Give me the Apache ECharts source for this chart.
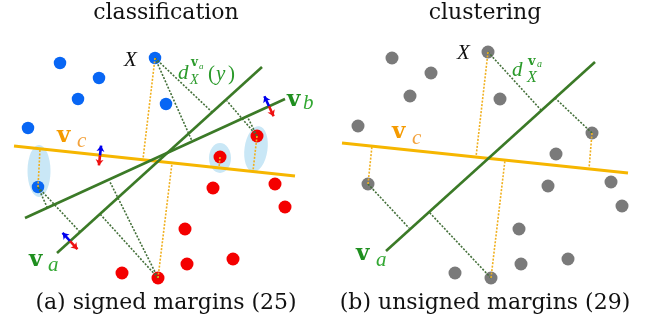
<!DOCTYPE html>
<html><head><meta charset="utf-8">
<script src="https://cdn.jsdelivr.net/npm/echarts@6/dist/echarts.min.js"></script>
<style>html,body{margin:0;padding:0;background:#fff}#c{width:650px;height:329px}</style>
</head><body><div id="c"></div>
<script>
// ---- data (diagram coordinates) ----
const bluePts = [[60,63],[99,78],[78,99],[155,58],[166,104],[28,128],[38,187]];
const redPts = [[257,136],[220,157],[213,188],[275,184],[285,207],[185,229],[187,264],[233,259],[122,273],[158,278]];
const grayPts = [[392,58],[431,73],[410,96],[488,52],[500,99],[358,126],[368,184],[592,133],[556,154],[548,186],[611,182],[622,206],[519,229],[521,264],[568,259],[455,273],[491,278]];
const greenLines = [[[57,253],[262,67]], [[25,218],[285,99]], [[386,251],[595,62]]];
const orangeLines = [[[14,146],[295,176]], [[342,143],[628,173]]];
const greenDotted = [
  [[155,58],[212,112]], [[155,58],[192,141]],
  [[257,136],[227,101]], [[257,136],[247,116]],
  [[38,187],[80,232]], [[38,187],[47,207]],
  [[158,278],[100,214]], [[158,278],[110,182]],
  [[488,52],[541,110]], [[592,133],[555,98]], [[368,184],[409,228]], [[491,278],[429,212]]
];
const orangeDotted = [
  [[155,58],[143,159]], [[158,278],[172,163]], [[38,187],[40,149]], [[220,157],[219,168]], [[257,136],[253,171]],
  [[488,52],[476,157]], [[592,133],[589,169]], [[368,184],[372,146]], [[491,278],[505,160]]
];
const blueArrows = [[[100,155.5],[101.1,145.6]], [[70,241],[62.6,232.8]], [[269,106.3],[264.4,96.2]]];
const redArrows = [[[100,155.5],[98.9,165.4]], [[70,241],[77.4,249.2]], [[269,106.3],[273.6,116.3]]];
const ellipseCenters = [[39,171],[220,158],[256,149]];
const titles = ['classification', 'clustering'];
const captions = ['(a) signed margins (25)', '(b) unsigned margins (29)'];

// ---- styles ----
const ellipseShapes = [{w:23,h:52,r:0},{w:22,h:30,r:0},{w:23,h:46,r:-8}];
const GREEN = '#3b7a27', ORANGE = '#f6b600', GTXT = '#2a9a2a';

const chart = echarts.init(document.getElementById('c'), null, {renderer:'canvas'});
const seg = arr => arr.map(c => ({coords: c}));
const serifs = '"DejaVu Serif", serif';
const mathf = '"Liberation Serif", "DejaVu Serif", serif';
function T(x, base, text, size, fill, opts) {
  opts = opts || {};
  return {type:'text', silent:true, style:{
    x: x, y: base - 0.33*size, text: text,
    font: [(opts.style||'normal'), (opts.weight||'normal'), size + 'px', (opts.family||mathf)].join(' '),
    fill: fill, textAlign: opts.align||'left', textVerticalAlign:'middle'}};
}
const graphics = [
  T(166, 21, titles[0], 22, '#111', {align:'center', family:serifs}),
  T(485, 21, titles[1], 22, '#111', {align:'center', family:serifs}),
  T(166, 311, captions[0], 22, '#111', {align:'center', family:serifs}),
  T(485, 311, captions[1], 22, '#111', {align:'center', family:serifs}),
  T(124, 67, 'X', 21, '#111', {style:'italic'}),
  T(457, 60, 'X', 21, '#111', {style:'italic'}),
  // d_X^{va}(y) left
  T(178, 80, 'd', 21, GTXT, {style:'italic'}),
  T(191, 67, 'v', 12, GTXT, {weight:'bold', family:serifs}),
  T(199, 70, 'a', 9, GTXT, {style:'italic'}),
  T(190, 85, 'X', 14, GTXT, {style:'italic'}),
  T(208, 81, '(', 21, GTXT, {}),
  T(216, 81, 'y', 21, GTXT, {style:'italic'}),
  T(228, 81, ')', 21, GTXT, {}),
  // right
  T(512, 77, 'd', 21, GTXT, {style:'italic'}),
  T(528, 66, 'v', 13, GTXT, {weight:'bold', family:serifs}),
  T(537, 68, 'a', 10, GTXT, {style:'italic'}),
  T(527, 83, 'X', 16, GTXT, {style:'italic'}),
  // v_c
  T(57, 144, 'v', 23, '#f59b00', {weight:'bold', family:serifs}),
  T(77, 148, 'c', 21, '#f3a23c', {style:'italic'}),
  T(392, 140, 'v', 23, '#f59b00', {weight:'bold', family:serifs}),
  T(412, 145, 'c', 21, '#f3a23c', {style:'italic'}),
  // v_b
  T(287, 108, 'v', 23, '#1f8f1f', {weight:'bold', family:serifs}),
  T(303, 110, 'b', 21, '#33a833', {style:'italic'}),
  // v_a
  T(29, 268, 'v', 23, '#1f8f1f', {weight:'bold', family:serifs}),
  T(48, 272, 'a', 21, '#33a833', {style:'italic'}),
  T(356, 262, 'v', 23, '#1f8f1f', {weight:'bold', family:serifs}),
  T(376, 267, 'a', 21, '#33a833', {style:'italic'})
];

chart.setOption({
  animation: false,
  grid: {left:0, right:0, top:0, bottom:0},
  xAxis: {type:'value', min:0, max:650, show:false},
  yAxis: {type:'value', min:0, max:329, inverse:true, show:false},
  series: [
    {type:'scatter', silent:true, data: ellipseCenters,
     symbolSize: (v, p) => [ellipseShapes[p.dataIndex].w, ellipseShapes[p.dataIndex].h],
     symbolRotate: (v, p) => ellipseShapes[p.dataIndex].r,
     itemStyle:{color:'#c9e7f6', opacity:1}, z:1},
    {type:'scatter', silent:true, data: bluePts, symbolSize:12.5, itemStyle:{color:'#0866f4', opacity:1}, z:3},
    {type:'scatter', silent:true, data: redPts, symbolSize:13, itemStyle:{color:'#f40000', opacity:1}, z:3},
    {type:'scatter', silent:true, data: grayPts, symbolSize:13, itemStyle:{color:'#7a7a7a', opacity:1}, z:3},
    {type:'lines', coordinateSystem:'cartesian2d', silent:true, data: seg(greenDotted),
     lineStyle:{color:'#44703a', width:1.6, type:[2,1.5], opacity:1}, z:4},
    {type:'lines', coordinateSystem:'cartesian2d', silent:true, data: seg(orangeDotted),
     lineStyle:{color:'#f0b020', width:1.6, type:[2,1.5], opacity:1}, z:4},
    {type:'lines', coordinateSystem:'cartesian2d', silent:true, data: seg(orangeLines),
     lineStyle:{color:ORANGE, width:3, opacity:1}, z:5},
    {type:'lines', coordinateSystem:'cartesian2d', silent:true, data: seg(greenLines),
     lineStyle:{color:GREEN, width:2.6, opacity:1}, z:6},
    {type:'lines', coordinateSystem:'cartesian2d', silent:true, data: seg(blueArrows),
     symbol:['none','arrow'], symbolSize:6, lineStyle:{color:'#0000ee', width:2.6, opacity:1}, z:7},
    {type:'lines', coordinateSystem:'cartesian2d', silent:true, data: seg(redArrows),
     symbol:['none','arrow'], symbolSize:6, lineStyle:{color:'#ee1111', width:2.6, opacity:1}, z:7}
  ],
  graphic: graphics
});
</script></body></html>
